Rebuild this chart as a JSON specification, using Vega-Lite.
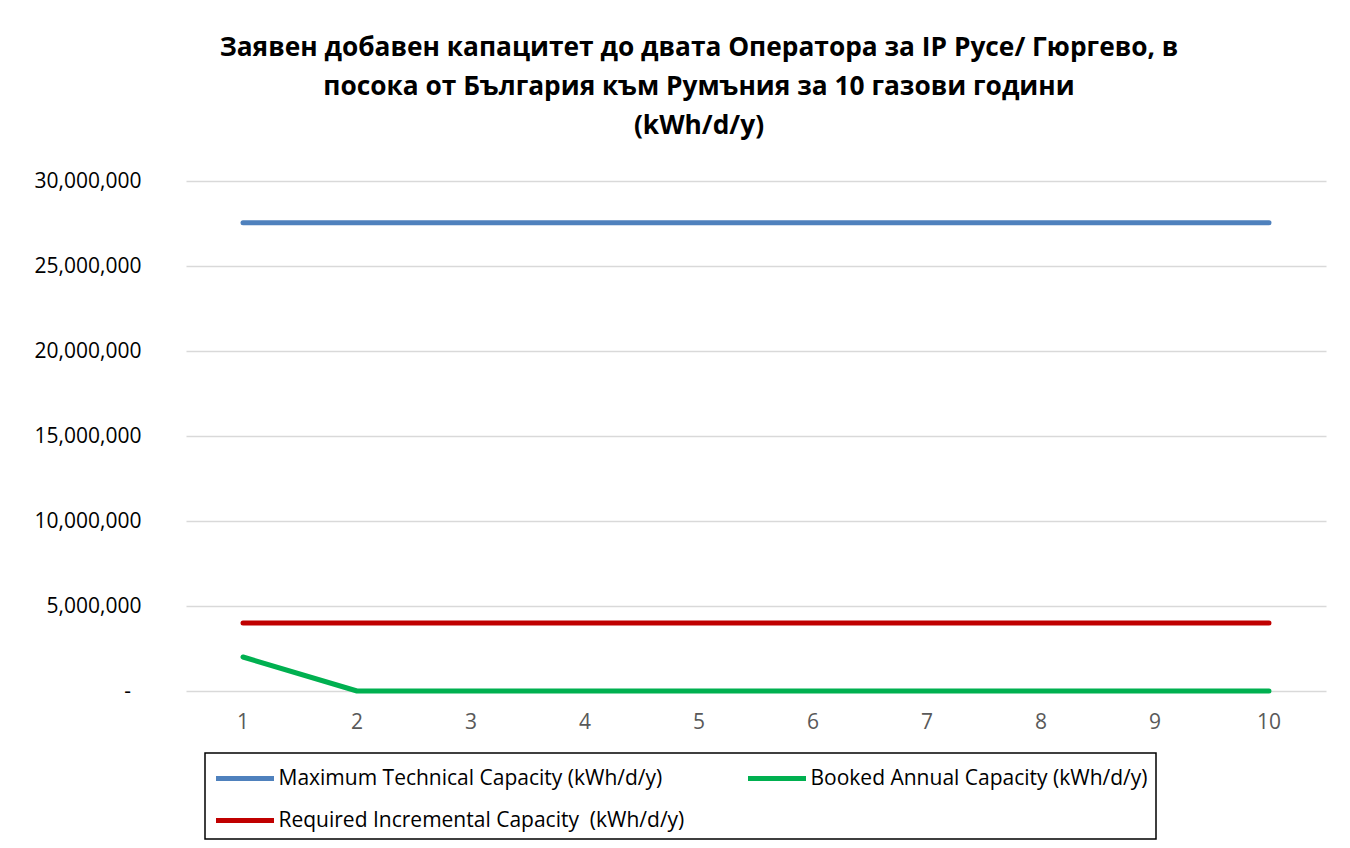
{
  "$schema": "https://vega.github.io/schema/vega-lite/v6.json",
  "width": 1140,
  "height": 510,
  "autosize": {"type": "none"},
  "padding": {"left": 186, "top": 181, "right": 24, "bottom": 157},
  "background": "white",
  "title": {
    "text": ["Заявен добавен капацитет до двата Оператора за IP Русе/ Гюргево, в", "посока от България към Румъния за 10 газови години", "(kWh/d/y)"],
    "font": "Open Sans",
    "fontSize": 26.3,
    "fontWeight": "bold",
    "color": "#000000",
    "lineHeight": 39,
    "anchor": "middle",
    "dx": -57,
    "offset": 31
  },
  "config": {
    "view": {"stroke": null},
    "font": "Open Sans"
  },
  "data": {
    "values": [
      {"year": 1, "series": "Maximum Technical Capacity (kWh/d/y)", "value": 27550000},
      {"year": 2, "series": "Maximum Technical Capacity (kWh/d/y)", "value": 27550000},
      {"year": 3, "series": "Maximum Technical Capacity (kWh/d/y)", "value": 27550000},
      {"year": 4, "series": "Maximum Technical Capacity (kWh/d/y)", "value": 27550000},
      {"year": 5, "series": "Maximum Technical Capacity (kWh/d/y)", "value": 27550000},
      {"year": 6, "series": "Maximum Technical Capacity (kWh/d/y)", "value": 27550000},
      {"year": 7, "series": "Maximum Technical Capacity (kWh/d/y)", "value": 27550000},
      {"year": 8, "series": "Maximum Technical Capacity (kWh/d/y)", "value": 27550000},
      {"year": 9, "series": "Maximum Technical Capacity (kWh/d/y)", "value": 27550000},
      {"year": 10, "series": "Maximum Technical Capacity (kWh/d/y)", "value": 27550000},
      {"year": 1, "series": "Booked Annual Capacity (kWh/d/y)", "value": 2000000},
      {"year": 2, "series": "Booked Annual Capacity (kWh/d/y)", "value": 0},
      {"year": 3, "series": "Booked Annual Capacity (kWh/d/y)", "value": 0},
      {"year": 4, "series": "Booked Annual Capacity (kWh/d/y)", "value": 0},
      {"year": 5, "series": "Booked Annual Capacity (kWh/d/y)", "value": 0},
      {"year": 6, "series": "Booked Annual Capacity (kWh/d/y)", "value": 0},
      {"year": 7, "series": "Booked Annual Capacity (kWh/d/y)", "value": 0},
      {"year": 8, "series": "Booked Annual Capacity (kWh/d/y)", "value": 0},
      {"year": 9, "series": "Booked Annual Capacity (kWh/d/y)", "value": 0},
      {"year": 10, "series": "Booked Annual Capacity (kWh/d/y)", "value": 0},
      {"year": 1, "series": "Required Incremental Capacity  (kWh/d/y)", "value": 4000000},
      {"year": 2, "series": "Required Incremental Capacity  (kWh/d/y)", "value": 4000000},
      {"year": 3, "series": "Required Incremental Capacity  (kWh/d/y)", "value": 4000000},
      {"year": 4, "series": "Required Incremental Capacity  (kWh/d/y)", "value": 4000000},
      {"year": 5, "series": "Required Incremental Capacity  (kWh/d/y)", "value": 4000000},
      {"year": 6, "series": "Required Incremental Capacity  (kWh/d/y)", "value": 4000000},
      {"year": 7, "series": "Required Incremental Capacity  (kWh/d/y)", "value": 4000000},
      {"year": 8, "series": "Required Incremental Capacity  (kWh/d/y)", "value": 4000000},
      {"year": 9, "series": "Required Incremental Capacity  (kWh/d/y)", "value": 4000000},
      {"year": 10, "series": "Required Incremental Capacity  (kWh/d/y)", "value": 4000000}
    ]
  },
  "mark": {"type": "line", "strokeWidth": 5, "strokeCap": "round", "strokeJoin": "round"},
  "encoding": {
    "x": {
      "field": "year",
      "type": "ordinal",
      "scale": {"type": "band", "paddingInner": 0, "paddingOuter": 0},
      "axis": {
        "title": null,
        "labelAngle": 0,
        "labelFontSize": 21,
        "labelColor": "#595959",
        "labelPadding": 20,
        "ticks": false,
        "domain": false,
        "grid": false
      }
    },
    "y": {
      "field": "value",
      "type": "quantitative",
      "scale": {"domain": [0, 30000000], "nice": false},
      "axis": {
        "title": null,
        "values": [0, 5000000, 10000000, 15000000, 20000000, 25000000, 30000000],
        "labelExpr": "datum.value == 0 ? '-\u2002\u200b' : format(datum.value, ',')",
        "labelFontSize": 21,
        "labelColor": "#000000",
        "labelPadding": 45,
        "ticks": false,
        "domain": false,
        "grid": true,
        "gridColor": "#d9d9d9",
        "gridWidth": 1.5
      }
    },
    "color": {
      "field": "series",
      "type": "nominal",
      "scale": {
        "domain": ["Maximum Technical Capacity (kWh/d/y)", "Required Incremental Capacity  (kWh/d/y)", "Booked Annual Capacity (kWh/d/y)"],
        "range": ["#4f81bd", "#c00000", "#00b050"]
      },
      "legend": {
        "title": null,
        "orient": "none",
        "legendX": 19,
        "legendY": 572,
        "columns": 2,
        "columnPadding": 53,
        "rowPadding": 15,
        "padding": 8.5,
        "strokeColor": "#000000",
        "labelFontSize": 21,
        "labelColor": "#000000",
        "labelOffset": 31,
        "labelLimit": 700,
        "labelExpr": "replace(datum.label, '  ', ' \u00a0')",
        "symbolType": "M-1,0H3",
        "symbolSize": 841,
        "symbolStrokeWidth": 5,
        "encode": {"legend": {"update": {"strokeWidth": {"value": 1.5}}}}
      }
    }
  }
}
